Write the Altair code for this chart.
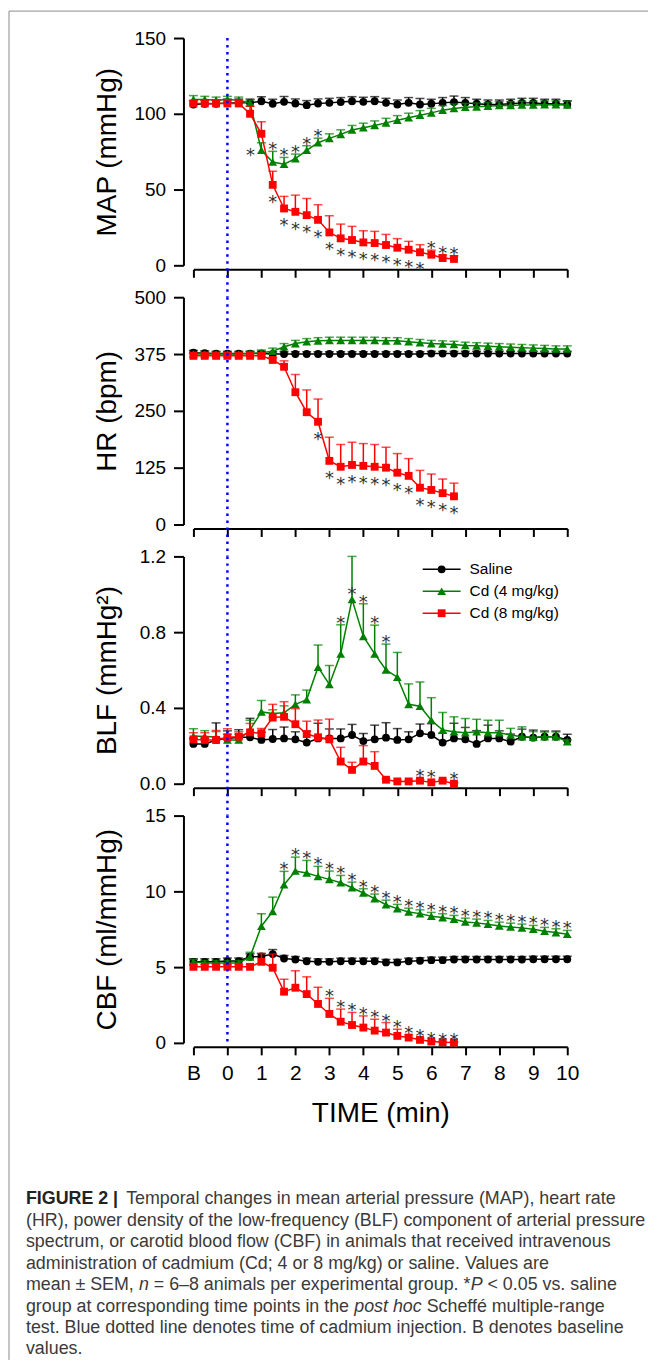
import altair as alt
import pandas as pd

# ---------------- data ----------------
TIME_S = [-60, -40, -20, 0, 20, 40, 60, 80, 100, 120, 140, 160, 180, 200, 220, 240, 260,
          280, 300, 320, 340, 360, 380, 400, 420, 440, 460, 480, 500, 520, 540, 560, 580, 600]
SERIES = ["Saline", "Cd (4 mg/kg)", "Cd (8 mg/kg)"]
X_TICKS = [-1, 0, 1, 2, 3, 4, 5, 6, 7, 8, 9, 10]

MAP_SAL = [106.1, 106.6, 106.6, 107.2, 107.2, 107.2, 108.3, 106.6, 107.9, 106.8, 105.7, 106.8, 107.2, 107.7,
           108.3, 107.9, 108.3, 107.2, 106.1, 107.2, 106.1, 106.6, 107.2, 107.7, 107.2, 106.6, 106.1, 106.1,
           106.6, 107.2, 107.2, 106.6, 106.6, 106.1]
MAP_SAL_ERR = [2.5, 2.5, 2.5, 2.5, 2.5, 2.5, 3, 3, 3.5, 3, 3, 3, 3, 3, 3, 3, 3, 3, 3, 3.5, 4, 3, 3.5, 4,
               3.5, 3, 3, 3, 3, 3, 3, 3, 3, 2.5]
MAP_CD4 = [109.5, 109.5, 109, 109.5, 109, 107, 75.9, 68.2, 66.7, 70.4, 75.9, 80.9, 83.8, 86.4, 89.3, 90.8,
           92.3, 94.0, 95.8, 97.4, 99.1, 100.6, 102.4, 103.5, 104.3, 104.6, 105.0, 105.5, 105.5, 105.8,
           105.8, 106.0, 106.0, 105.8]
MAP_CD4_ERR = [2.5, 2, 2, 2, 2, 2, 5, 7, 4.5, 3, 3, 3, 3, 3, 3, 3, 3, 3, 3, 3, 3, 3, 3, 3, 2.5, 2.5, 2.5,
               2.5, 2.5, 2.5, 2.5, 2.5, 2.5, 2.5]
MAP_CD8 = [106.8, 106.8, 106.8, 106.8, 106.8, 100.0, 86.8, 53.1, 37.5, 35.3, 33.1, 30.0, 21.7, 17.8, 16.7,
           15.1, 14.7, 13.4, 11.6, 10.3, 8.6, 7.0, 4.8, 4.2]
MAP_CD8_ERR = [2, 2, 2, 2, 2, 5, 8, 9, 8, 11, 11, 10, 11, 9.4, 9, 7.7, 7.7, 7, 6, 5.5, 5, 3, 2, 2]
MAP_STAR_CD4 = [6, 7, 8, 9, 10, 11]
MAP_STAR_CD4_POS = ["l", "a", "a", "a", "a", "a"]
MAP_STAR_CD8 = [7, 8, 9, 10, 11, 12, 13, 14, 15, 16, 17, 18, 19, 20, 21, 22, 23]
MAP_STAR_CD8_POS = ["b"] * 14 + ["a"] * 3

HR_SAL = [378, 377, 376, 376, 376, 376, 376, 375, 375, 375, 375, 375, 375, 375, 375, 375, 375, 375, 375,
          375, 375, 376, 376, 376, 376, 376, 376, 376, 376, 376, 376, 376, 376, 376]
HR_SAL_ERR = [5, 5, 5, 5, 5, 5, 5, 5, 5, 5, 5, 5, 5, 5, 5, 5, 5, 5, 5, 5, 5, 5, 5, 5, 5, 5, 5, 5, 5, 5,
              5, 5, 5, 5]
HR_CD4 = [375, 375, 375, 375, 375, 376, 378, 381, 391, 398, 402, 404, 405, 405, 405, 405, 405, 404, 404,
          402, 400, 398, 397, 396, 394, 393, 392, 391, 390, 389, 388, 387, 386, 386]
HR_CD4_ERR = [4, 4, 4, 4, 4, 5, 6, 7, 7, 7, 7, 7, 7, 7, 7, 7, 7, 7, 7, 7, 7, 7, 7, 7, 7, 7, 7, 7, 7, 7,
              7, 7, 7, 7]
HR_CD8 = [371, 371, 371, 371, 371, 371, 371, 362, 347, 291, 247, 226, 140, 127, 131, 129, 127, 125, 114,
          107, 81, 76, 69, 62]
HR_CD8_ERR = [5, 5, 5, 5, 5, 5, 5, 5, 13, 39, 49, 50, 52, 49, 50, 49, 49, 45, 42, 38, 38, 35, 31, 29]
HR_STAR_CD8 = [11, 12, 13, 14, 15, 16, 17, 18, 19, 20, 21, 22, 23]
HR_STAR_CD8_POS = ["b"] * 13

BLF_SAL = [0.210, 0.210, 0.231, 0.239, 0.245, 0.245, 0.231, 0.236, 0.239, 0.234, 0.217, 0.239, 0.239,
           0.239, 0.257, 0.225, 0.234, 0.243, 0.231, 0.234, 0.266, 0.257, 0.217, 0.239, 0.234, 0.210,
           0.239, 0.239, 0.222, 0.248, 0.243, 0.248, 0.248, 0.231]
BLF_SAL_ERR = [0.03, 0.03, 0.09, 0.04, 0.04, 0.10, 0.04, 0.05, 0.06, 0.04, 0.06, 0.08, 0.05, 0.05, 0.056,
               0.04, 0.075, 0.079, 0.06, 0.04, 0.049, 0.06, 0.05, 0.08, 0.063, 0.07, 0.07, 0.04, 0.04,
               0.04, 0.04, 0.03, 0.03, 0.03]
BLF_CD4 = [0.25, 0.25, 0.245, 0.231, 0.231, 0.285, 0.379, 0.370, 0.374, 0.419, 0.444, 0.615, 0.524, 0.685,
           0.973, 0.777, 0.685, 0.601, 0.562, 0.419, 0.409, 0.335, 0.283, 0.274, 0.269, 0.274, 0.269,
           0.269, 0.257, 0.248, 0.245, 0.248, 0.248, 0.222]
BLF_CD4_ERR = [0.04, 0.03, 0.03, 0.03, 0.03, 0.05, 0.06, 0.02, 0.037, 0.05, 0.05, 0.117, 0.1, 0.154, 0.227,
               0.173, 0.152, 0.136, 0.131, 0.108, 0.128, 0.119, 0.093, 0.079, 0.075, 0.066, 0.066, 0.066,
               0.035, 0.052, 0.03, 0.025, 0.025, 0.01]
BLF_CD8 = [0.234, 0.231, 0.231, 0.245, 0.248, 0.271, 0.266, 0.349, 0.353, 0.314, 0.262, 0.245, 0.234,
           0.117, 0.073, 0.117, 0.094, 0.021, 0.012, 0.012, 0.016, 0.007, 0.016, 0.0]
BLF_CD8_ERR = [0.035, 0.038, 0.05, 0.045, 0.026, 0.047, 0.026, 0.07, 0.08, 0.082, 0.068, 0.091, 0.107,
               0.075, 0.04, 0.084, 0.075, 0.005, 0.005, 0.005, 0.005, 0.005, 0.005, 0.005]
BLF_STAR_CD4 = [13, 14, 15, 16, 17]
BLF_STAR_CD4_POS = ["a", "p", "a", "a", "a"]
BLF_STAR_CD8 = [20, 21, 23]
BLF_STAR_CD8_POS = ["p", "p", "p"]

CBF_SAL = [5.35, 5.35, 5.35, 5.4, 5.4, 5.68, 5.7, 5.86, 5.57, 5.5, 5.39, 5.35, 5.35, 5.39, 5.39, 5.39,
           5.39, 5.31, 5.31, 5.39, 5.42, 5.46, 5.46, 5.5, 5.5, 5.5, 5.5, 5.5, 5.5, 5.5, 5.52, 5.52, 5.52,
           5.52]
CBF_SAL_ERR = [0.2, 0.2, 0.2, 0.2, 0.2, 0.2, 0.2, 0.3, 0.2, 0.2, 0.2, 0.2, 0.2, 0.2, 0.2, 0.2, 0.2, 0.2,
               0.2, 0.2, 0.2, 0.2, 0.2, 0.2, 0.2, 0.2, 0.2, 0.2, 0.2, 0.2, 0.2, 0.2, 0.2, 0.2]
CBF_CD4 = [5.35, 5.28, 5.28, 5.28, 5.28, 5.68, 7.70, 8.68, 10.44, 11.34, 11.21, 10.99, 10.79, 10.57, 10.24,
           9.89, 9.52, 9.12, 8.86, 8.64, 8.53, 8.36, 8.27, 8.16, 7.98, 7.92, 7.83, 7.72, 7.65, 7.59, 7.50,
           7.37, 7.28, 7.17]
CBF_CD4_ERR = [0.15, 0.15, 0.15, 0.15, 0.15, 0.3, 0.83, 0.94, 0.88, 0.92, 0.83, 0.66, 0.55, 0.48, 0.37,
               0.28, 0.3, 0.3, 0.28, 0.25, 0.25, 0.25, 0.25, 0.25, 0.25, 0.25, 0.25, 0.25, 0.25, 0.25,
               0.25, 0.25, 0.25, 0.25]
CBF_CD8 = [5.02, 5.02, 5.02, 5.02, 5.02, 5.02, 5.35, 4.96, 3.38, 3.64, 3.22, 2.57, 1.91, 1.40, 1.18, 1.01,
           0.81, 0.68, 0.46, 0.35, 0.20, 0.09, 0.04, 0.02]
CBF_CD8_ERR = [0.15, 0.15, 0.15, 0.15, 0.15, 0.15, 0.55, 0.9, 0.82, 1.12, 1.14, 1.10, 1.03, 0.83, 0.83,
               0.77, 0.75, 0.66, 0.44, 0.18, 0.1, 0.05, 0.05, 0.05]
CBF_STAR_CD4 = list(range(8, 34))
CBF_STAR_CD4_POS = ["a"] * 26
CBF_STAR_CD8 = [12, 13, 14, 15, 16, 17, 18, 19, 20, 21, 22, 23]
CBF_STAR_CD8_POS = ["a"] * 12

CAPTION = [
    (1, [("FIGURE 2 |", "bold"), (" Temporal changes in mean arterial pressure (MAP), heart rate", "normal")]),
    (2, [("(HR), power density of the low-frequency (BLF) component of arterial pressure", "normal")]),
    (3, [("spectrum, or carotid blood flow (CBF) in animals that received intravenous", "normal")]),
    (4, [("administration of cadmium (Cd; 4 or 8 mg/kg) or saline. Values are", "normal")]),
    (5, [("mean \u00b1 SEM, ", "normal"), ("n", "italic"), (" = 6\u20138 animals per experimental group. *", "normal"),
         ("P", "italic"), (" < 0.05 vs. saline", "normal")]),
    (6, [("group at corresponding time points in the ", "normal"), ("post hoc", "italic"),
         (" Scheff\u00e9 multiple-range", "normal")]),
    (7, [("test. Blue dotted line denotes time of cadmium injection. B denotes baseline", "normal")]),
    (8, [("values.", "normal")]),
]

# ---------------- styling ----------------
FONT = "Liberation Sans"
STAR_FONT = "DejaVu Sans"
COLORS = {"Saline": "#000000", "Cd (4 mg/kg)": "#008000", "Cd (8 mg/kg)": "#ff0000"}
SHAPES = {"Saline": "circle", "Cd (4 mg/kg)": "triangle-up", "Cd (8 mg/kg)": "square"}
MSIZE = {"Saline": 62, "Cd (4 mg/kg)": 78, "Cd (8 mg/kg)": 62}
W, H, GAP = 375, 228, 32
STAR_FS = 18
STAR_DY = {"b": 23, "a": 4, "p": 1, "l": 11}
STAR_DX = {"b": 0, "a": 0, "p": 0, "l": -11}
CAP_FS = 17.9

# Arial / Liberation Sans advance widths (per 1000 em), used to place caption segments one after another
_W = {" ": 278, "(": 333, ")": 333, "*": 389, ",": 278, "-": 333, ".": 278, "/": 278, ";": 278, "<": 584,
      "=": 584, "\u00b1": 549, "\u2013": 556, "|": 260, "\u00e9": 556,
      "A": 667, "B": 667, "C": 722, "D": 722, "E": 667, "F": 611, "G": 778, "H": 722, "I": 278, "L": 556,
      "M": 833, "P": 667, "R": 722, "S": 667, "T": 611, "U": 722, "V": 667,
      "a": 556, "b": 556, "c": 500, "d": 556, "e": 556, "f": 278, "g": 556, "h": 556, "i": 222, "j": 222,
      "k": 500, "l": 222, "m": 833, "n": 556, "o": 556, "p": 556, "q": 556, "r": 333, "s": 500, "t": 278,
      "u": 556, "v": 500, "w": 722, "x": 500, "y": 500, "z": 500}


def text_width(s, fs, bold=False):
    total = 0
    for ch in s:
        w = _W.get(ch, 556)
        if bold and ch == "|":
            w = 280
        total += w
    return total * fs / 1000


def series_df(means, errs):
    n = len(means)
    return pd.DataFrame({
        "t": [s / 60 for s in TIME_S[:n]],
        "mean": means,
        "upper": [m + e for m, e in zip(means, errs)],
    })


def panel(ytitle, ymax, yvals, yfmt, sets, stars, last=False, legend=False, extend=True):
    xscale = alt.Scale(domain=[-1, 10], nice=False, zero=False)
    yscale = alt.Scale(domain=[0, ymax], nice=False, zero=False)
    xaxis_kw = dict(values=X_TICKS, labels=last, offset=4, tickSize=8, tickWidth=2, domainWidth=2,
                    domainColor="black", tickColor="black", grid=False, labelFlush=False,
                    labelExpr="datum.value == -1 ? 'B' : datum.label", labelFont=FONT,
                    labelFontSize=21, labelColor="black", labelPadding=8, labelOverlap=False)
    if last:
        xaxis_kw.update(title="TIME (min)", titleFont=FONT, titleFontSize=28, titleFontWeight="normal",
                        titleColor="black", titlePadding=16)
    else:
        xaxis_kw.update(title=None)
    xaxis = alt.Axis(**xaxis_kw)
    yaxis = alt.Axis(values=yvals, format=yfmt, title=ytitle, offset=10, tickSize=10, tickWidth=2,
                     domainWidth=2, domainColor="black", tickColor="black", grid=False,
                     labelFont=FONT, labelFontSize=19, labelColor="black", labelPadding=8,
                     titleFont=FONT, titleFontSize=28, titleFontWeight="normal", titleColor="black",
                     titleX=-76, titleY=H / 2, titleAngle=270, titleAlign="center",
                     titleBaseline="middle")

    def X():
        return alt.X("t:Q", scale=xscale, axis=xaxis)

    def Y(field):
        return alt.Y(f"{field}:Q", scale=yscale, axis=yaxis)

    layers = []
    for name in SERIES:
        means, errs = sets[name]
        df = series_df(means, errs)
        c = COLORS[name]
        base = alt.Chart(df)
        layers.append(base.mark_line(color=c, strokeWidth=1.5).encode(x=X(), y=Y("mean")))
        layers.append(base.mark_rule(color=c, strokeWidth=1.5).encode(x=X(), y=Y("mean"), y2="upper:Q"))
        layers.append(base.mark_tick(color=c, orient="horizontal", size=9, thickness=1.5)
                      .encode(x=X(), y=Y("upper")))
        layers.append(base.mark_point(shape=SHAPES[name], filled=True, size=MSIZE[name], color=c,
                                      opacity=1).encode(x=X(), y=Y("mean")))

    for name, (idx, pos) in stars.items():
        means, errs = sets[name]
        df = series_df(means, errs)
        for mode in ["a", "b", "p", "l"]:
            sel = [i for i, p in zip(idx, pos) if p == mode]
            if not sel:
                continue
            sdf = df.iloc[sel].copy()
            sdf["ys"] = sdf["upper"] if mode == "a" else sdf["mean"]
            layers.append(alt.Chart(sdf).mark_text(text="*", font=STAR_FONT, fontSize=STAR_FS,
                                                   color="#333333", baseline="alphabetic", align="center",
                                                   dy=STAR_DY[mode], dx=STAR_DX[mode])
                          .encode(x=X(), y=Y("ys")))

    if legend:
        for j, name in enumerate(SERIES):
            ly = 13 + 22 * j
            one = alt.Chart(pd.DataFrame({"series": [name]}))
            layers.append(one.mark_rule(color=COLORS[name], strokeWidth=1.5)
                          .encode(x=alt.value(230), x2=alt.value(268), y=alt.value(ly)))
            layers.append(one.mark_point(shape=SHAPES[name], filled=True, size=MSIZE[name],
                                         color=COLORS[name], opacity=1)
                          .encode(x=alt.value(249), y=alt.value(ly)))
            layers.append(one.mark_text(align="left", baseline="middle", font=FONT, fontSize=15.5,
                                        color="black")
                          .encode(x=alt.value(277), y=alt.value(ly), text="series:N"))

    inj = pd.DataFrame({"t": [0.0]})
    layers.append(alt.Chart(inj).mark_rule(color="#0000ff", strokeWidth=2.5, strokeDash=[2.5, 4.5])
                  .encode(x=X(), y=alt.value(0), y2=alt.value(H + GAP if extend else H)))

    return alt.layer(*layers).properties(width=W, height=H)


p_map = panel("MAP (mmHg)", 150, [0, 50, 100, 150], "d",
              {"Saline": (MAP_SAL, MAP_SAL_ERR), "Cd (4 mg/kg)": (MAP_CD4, MAP_CD4_ERR),
               "Cd (8 mg/kg)": (MAP_CD8, MAP_CD8_ERR)},
              {"Cd (4 mg/kg)": (MAP_STAR_CD4, MAP_STAR_CD4_POS),
               "Cd (8 mg/kg)": (MAP_STAR_CD8, MAP_STAR_CD8_POS)})
p_hr = panel("HR (bpm)", 500, [0, 125, 250, 375, 500], "d",
             {"Saline": (HR_SAL, HR_SAL_ERR), "Cd (4 mg/kg)": (HR_CD4, HR_CD4_ERR),
              "Cd (8 mg/kg)": (HR_CD8, HR_CD8_ERR)},
             {"Cd (8 mg/kg)": (HR_STAR_CD8, HR_STAR_CD8_POS)})
p_blf = panel("BLF (mmHg\u00b2)", 1.2, [0.0, 0.4, 0.8, 1.2], ".1f",
              {"Saline": (BLF_SAL, BLF_SAL_ERR), "Cd (4 mg/kg)": (BLF_CD4, BLF_CD4_ERR),
               "Cd (8 mg/kg)": (BLF_CD8, BLF_CD8_ERR)},
              {"Cd (4 mg/kg)": (BLF_STAR_CD4, BLF_STAR_CD4_POS),
               "Cd (8 mg/kg)": (BLF_STAR_CD8, BLF_STAR_CD8_POS)}, legend=True)
p_cbf = panel("CBF (ml/mmHg)", 15, [0, 5, 10, 15], "d",
              {"Saline": (CBF_SAL, CBF_SAL_ERR), "Cd (4 mg/kg)": (CBF_CD4, CBF_CD4_ERR),
               "Cd (8 mg/kg)": (CBF_CD8, CBF_CD8_ERR)},
              {"Cd (4 mg/kg)": (CBF_STAR_CD4, CBF_STAR_CD4_POS),
               "Cd (8 mg/kg)": (CBF_STAR_CD8, CBF_STAR_CD8_POS)}, last=True, extend=False)

# ---------------- caption panel ----------------
rows = []
for line, segs in CAPTION:
    cx = -168
    for txt, style in segs:
        bold = style == "bold"
        lead = len(txt) - len(txt.lstrip(" "))
        rows.append({"x": cx + text_width(" " * lead, CAP_FS), "y": 125 + (line - 1) * 21.5,
                     "text": txt.strip(" "), "style": style})
        cx += text_width(txt, CAP_FS, bold=bold)
        if bold:
            cx += 3
cap_df = pd.DataFrame(rows)
cap_layers = []
for style, weight, fstyle, col in [("normal", "normal", "normal", "#3a3a3a"),
                                   ("bold", "bold", "normal", "#222222"),
                                   ("italic", "normal", "italic", "#3a3a3a")]:
    cap_layers.append(alt.Chart(cap_df[cap_df["style"] == style])
                      .mark_text(align="left", baseline="middle", font=FONT, fontSize=CAP_FS,
                                 fontWeight=weight, fontStyle=fstyle, color=col)
                      .encode(x=alt.X("x:Q", scale=None, axis=None),
                              y=alt.Y("y:Q", scale=None, axis=None), text="text:N"))
frame = alt.Chart(pd.DataFrame({"v": [0]}))
cap_layers.append(frame.mark_rule(color="#8c8c8c", strokeWidth=1)
                  .encode(x=alt.value(-185), y=alt.value(-1067), y2=alt.value(286)))
cap_layers.append(frame.mark_rule(color="#8c8c8c", strokeWidth=1)
                  .encode(x=alt.value(-185), x2=alt.value(456), y=alt.value(-1067)))
p_cap = alt.layer(*cap_layers).properties(width=W, height=200)

chart = (alt.vconcat(p_map, p_hr, p_blf, p_cbf, p_cap, spacing=GAP, bounds="flush")
         .properties(padding={"left": 0, "top": 0, "right": 0, "bottom": 0})
         .configure_view(stroke=None)
         .configure_axis(grid=False))

chart.save("out.html", embed_options={"renderer": "svg", "actions": False})
